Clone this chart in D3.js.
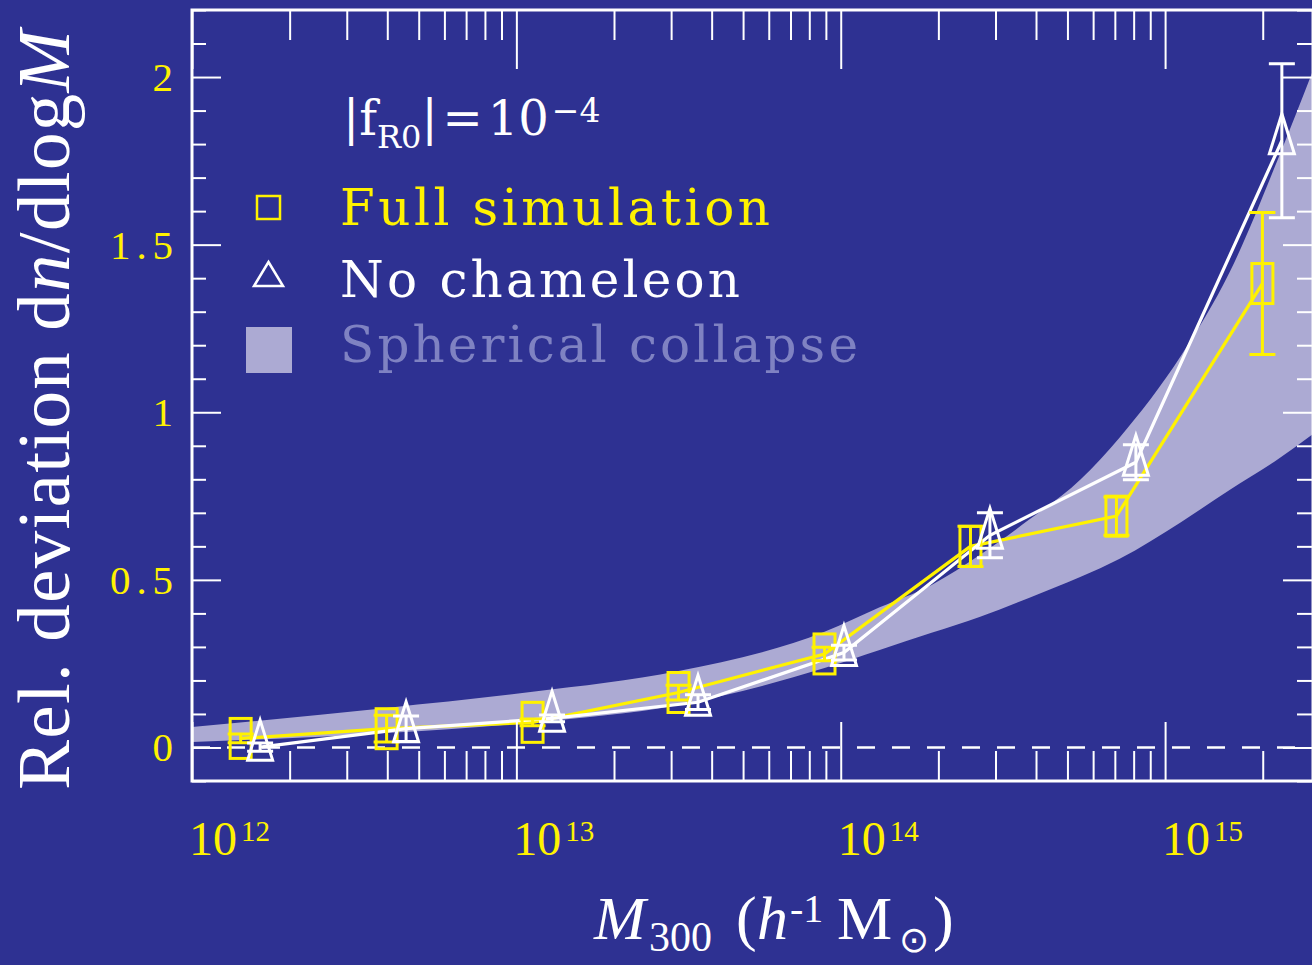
<!DOCTYPE html>
<html>
<head>
<meta charset="utf-8">
<script src="https://cdn.jsdelivr.net/npm/d3@7"></script>
<style>
  html, body { margin: 0; padding: 0; background: #2e3192; }
  svg { display: block; }
</style>
</head>
<body>
<script>
// log10 of halo mass, relative deviation and error for each run
const logMFull = [12.15, 12.60, 13.05, 13.50, 13.95, 14.40, 14.85, 15.30];
const devFull = [0.027, 0.056, 0.075, 0.164, 0.279, 0.600, 0.690, 1.384];
const errFull = [0.013, 0.040, 0.010, 0.022, 0.020, 0.060, 0.057, 0.212];

const logMNoCham = [12.21, 12.66, 13.11, 13.56, 14.01, 14.46, 14.91, 15.36];
const devNoCham = [0.001, 0.056, 0.087, 0.135, 0.283, 0.633, 0.851, 1.810];
const errNoCham = [0.012, 0.038, 0.010, 0.022, 0.022, 0.067, 0.052, 0.230];

// spherical collapse prediction band
const bandLogM = [12.0, 12.6, 13.05, 13.5, 13.95, 14.12, 14.28, 14.43, 14.58, 14.74, 14.86, 15.05, 15.2, 15.35, 15.456];
const bandUpper = [0.061, 0.118, 0.166, 0.228, 0.345, 0.418, 0.485, 0.575, 0.679, 0.80, 0.925, 1.17, 1.42, 1.76, 2.02];
const bandLower = [0.016, 0.043, 0.075, 0.127, 0.237, 0.291, 0.342, 0.39, 0.446, 0.509, 0.563, 0.673, 0.769, 0.861, 0.935];

const xMajor = [12, 13, 14, 15];
const yMajor = [0, 0.5, 1, 1.5, 2];
const yLabels = ["0", "0.5", "1", "1.5", "2"];

let svgWidth = 1312;
let svgHeight = 965;
let margin = { left: 192, right: 1313, top: 10, bottom: 781 };

let bg = "#2e3192";
let yellow = "#fff200";
let lavender = "#acaad3";

let svg = d3.select("body")
    .append("svg")
    .attr("width", svgWidth)
    .attr("height", svgHeight);

svg.append("rect")
    .attr("width", svgWidth)
    .attr("height", svgHeight)
    .attr("fill", bg);

let x = d3.scaleLog()
    .domain([1e12, Math.pow(10, 15.456)])
    .range([margin.left, margin.right]);

let y = d3.scaleLinear()
    .domain([-0.1, 2.2])
    .range([margin.bottom, margin.top]);

let X = m => x(Math.pow(10, m));

// band
let band = d3.area()
    .x((d, i) => X(bandLogM[i]))
    .y0((d, i) => y(bandLower[i]))
    .y1((d, i) => y(bandUpper[i]))
    .curve(d3.curveMonotoneX);

let plot = svg.append("g");

plot.append("clipPath").attr("id", "clip")
    .append("rect")
    .attr("x", margin.left).attr("y", margin.top)
    .attr("width", margin.right - margin.left).attr("height", margin.bottom - margin.top);

plot.append("path")
    .attr("clip-path", "url(#clip)")
    .attr("d", band(bandLogM))
    .attr("fill", lavender);

// zero line
plot.append("line")
    .attr("x1", margin.left).attr("x2", margin.right)
    .attr("y1", y(0)).attr("y2", y(0))
    .attr("stroke", "#fff")
    .attr("stroke-width", 2.5)
    .attr("stroke-dasharray", "18,17");

// series lines
let line = d3.line()
    .x(d => X(d[0]))
    .y(d => y(d[1]));

let fullPts = logMFull.map((m, i) => [m, devFull[i], errFull[i]]);
let noChamPts = logMNoCham.map((m, i) => [m, devNoCham[i], errNoCham[i]]);

plot.append("path")
    .attr("d", line(fullPts))
    .attr("fill", "none")
    .attr("stroke", yellow)
    .attr("stroke-width", 3.2);

plot.append("path")
    .attr("d", line(noChamPts))
    .attr("fill", "none")
    .attr("stroke", "#fff")
    .attr("stroke-width", 3.2);

// error bars
function errorBars(pts, color) {
    let g = plot.append("g")
        .attr("stroke", color)
        .attr("stroke-width", 3)
        .attr("fill", "none");
    g.selectAll(".eb")
        .data(pts)
        .enter()
        .append("path")
        .attr("d", d => {
            let cx = X(d[0]), y1 = y(d[1] + d[2]), y2 = y(d[1] - d[2]);
            return `M${cx},${y1}V${y2}M${cx - 13},${y1}H${cx + 13}M${cx - 13},${y2}H${cx + 13}`;
        });
}

// markers
plot.append("g").selectAll("rect")
    .data(fullPts)
    .enter()
    .append("rect")
    .attr("x", d => X(d[0]) - 10.5)
    .attr("y", d => y(d[1]) - 20)
    .attr("width", 21)
    .attr("height", 40)
    .attr("fill", "none")
    .attr("stroke", yellow)
    .attr("stroke-width", 3);
errorBars(fullPts, yellow);

plot.append("g").selectAll("path")
    .data(noChamPts)
    .enter()
    .append("path")
    .attr("d", d => {
        let cx = X(d[0]), cy = y(d[1]);
        return `M${cx},${cy - 27}L${cx + 12.5},${cy + 13}L${cx - 12.5},${cy + 13}Z`;
    })
    .attr("fill", "none")
    .attr("stroke", "#fff")
    .attr("stroke-width", 3)
    .attr("stroke-linejoin", "miter");
errorBars(noChamPts, "#fff");

// axes
let xMinor = x.ticks().filter(t => !xMajor.includes(Math.round(Math.log10(t) * 1000) / 1000));
let xMaj = xMajor.map(m => Math.pow(10, m));
let yMinor = d3.range(-1, 23).map(i => i / 10).filter(v => !yMajor.includes(v));

function styleAxis(g) {
    g.select(".domain").remove();
    g.selectAll("line").attr("stroke", "#fff").attr("stroke-width", 2);
    g.selectAll("text").remove();
}

svg.append("g").attr("transform", `translate(0, ${margin.bottom})`)
    .call(d3.axisTop(x).tickValues(xMinor).tickSize(30).tickFormat(""))
    .call(styleAxis);
svg.append("g").attr("transform", `translate(0, ${margin.bottom})`)
    .call(d3.axisTop(x).tickValues(xMaj).tickSize(59).tickFormat(""))
    .call(styleAxis);
svg.append("g").attr("transform", `translate(0, ${margin.top})`)
    .call(d3.axisBottom(x).tickValues(xMinor).tickSize(30).tickFormat(""))
    .call(styleAxis);
svg.append("g").attr("transform", `translate(0, ${margin.top})`)
    .call(d3.axisBottom(x).tickValues(xMaj).tickSize(59).tickFormat(""))
    .call(styleAxis);

svg.append("g").attr("transform", `translate(${margin.left}, 0)`)
    .call(d3.axisRight(y).tickValues(yMinor).tickSize(14).tickFormat(""))
    .call(styleAxis);
svg.append("g").attr("transform", `translate(${margin.left}, 0)`)
    .call(d3.axisRight(y).tickValues(yMajor).tickSize(29).tickFormat(""))
    .call(styleAxis);
svg.append("g").attr("transform", `translate(${margin.right}, 0)`)
    .call(d3.axisLeft(y).tickValues(yMinor).tickSize(16).tickFormat(""))
    .call(styleAxis);
svg.append("g").attr("transform", `translate(${margin.right}, 0)`)
    .call(d3.axisLeft(y).tickValues(yMajor).tickSize(30).tickFormat(""))
    .call(styleAxis);

// frame
svg.append("rect")
    .attr("x", margin.left).attr("y", margin.top)
    .attr("width", margin.right - margin.left).attr("height", margin.bottom - margin.top)
    .attr("fill", "none")
    .attr("stroke", "#fff")
    .attr("stroke-width", 3);

// tick labels
let serif = "'Liberation Serif', 'Times New Roman', serif";

svg.append("g").selectAll("text")
    .data(yMajor)
    .enter()
    .append("text")
    .attr("x", 173)
    .attr("y", d => y(d) + 14)
    .attr("text-anchor", "end")
    .attr("font-family", serif)
    .attr("font-size", 41)
    .attr("fill", yellow)
    .each(function(d, i) {
        let t = d3.select(this).text(yLabels[i]);
        if (yLabels[i].length > 1) t.attr("textLength", 63).attr("lengthAdjust", "spacing");
    });

let xl = svg.append("g").selectAll("text")
    .data(xMajor)
    .enter()
    .append("text")
    .attr("x", d => X(d) - 3)
    .attr("y", 855)
    .attr("font-family", serif)
    .attr("font-size", 48)
    .attr("fill", yellow);
xl.append("tspan").text("10");
xl.append("tspan").attr("dx", 4).attr("dy", -14).attr("font-size", 29).text(d => d);

// axis titles
svg.append("text")
    .attr("transform", "translate(69, 410) rotate(-90)")
    .attr("text-anchor", "middle")
    .attr("font-family", serif)
    .attr("font-size", 75)
    .attr("fill", "#fff")
    .attr("textLength", 760)
    .attr("lengthAdjust", "spacing")
    .call(t => {
        t.append("tspan").text("Rel. deviation d");
        t.append("tspan").attr("font-style", "italic").text("n");
        t.append("tspan").text("/dlog");
        t.append("tspan").attr("font-style", "italic").text("M");
    });

let xt = svg.append("text")
    .attr("x", 594)
    .attr("y", 939)
    .attr("font-family", serif)
    .attr("font-size", 62)
    .attr("fill", "#fff");
xt.append("tspan").attr("font-style", "italic").text("M");
xt.append("tspan").attr("x", 649).attr("dy", 12).attr("font-size", 42).text("300");
xt.append("tspan").attr("x", 736).attr("dy", -12).text("(");
xt.append("tspan").attr("x", 757).attr("font-style", "italic").text("h");
xt.append("tspan").attr("x", 790).attr("dy", -17).attr("font-size", 40).text("-1");
xt.append("tspan").attr("x", 837).attr("dy", 17).text("M");
xt.append("tspan").attr("x", 899).attr("dy", 13).attr("font-size", 36)
    .attr("font-family", "'DejaVu Sans', sans-serif").text("⊙");
xt.append("tspan").attr("x", 933).attr("dy", -13).text(")");

// annotation and legend
let legendFont = "'DejaVu Serif', serif";

let fr = svg.append("text")
    .attr("x", 343)
    .attr("y", 135)
    .attr("font-family", legendFont)
    .attr("font-size", 48)
    .attr("fill", "#fff");
fr.append("tspan").text("|f");
fr.append("tspan").attr("dy", 13).attr("font-size", 32).text("R0");
fr.append("tspan").attr("dy", -13).text("|");
fr.append("tspan").attr("dx", 5).text("=");
fr.append("tspan").attr("dx", 5).text("10");
fr.append("tspan").attr("dx", 3).attr("dy", -13).attr("font-size", 33).text("−4");

const legendLabels = ["Full simulation", "No chameleon", "Spherical collapse"];
const legendColors = [yellow, "#fff", "#7f82c2"];
const legendWidths = [430, 400, 518];
const legendBase = [225, 297, 362];

svg.append("g").selectAll("text")
    .data(legendLabels)
    .enter()
    .append("text")
    .attr("x", 340)
    .attr("y", (d, i) => legendBase[i])
    .attr("font-family", legendFont)
    .attr("font-size", 50)
    .attr("fill", (d, i) => legendColors[i])
    .attr("textLength", (d, i) => legendWidths[i])
    .attr("lengthAdjust", "spacing")
    .text(d => d);

svg.append("rect")
    .attr("x", 257).attr("y", 196)
    .attr("width", 23).attr("height", 23)
    .attr("fill", "none")
    .attr("stroke", yellow)
    .attr("stroke-width", 2.5);

svg.append("path")
    .attr("d", "M268.5,262L283,286L254,286Z")
    .attr("fill", "none")
    .attr("stroke", "#fff")
    .attr("stroke-width", 2.5);

svg.append("rect")
    .attr("x", 246).attr("y", 327)
    .attr("width", 46).attr("height", 46)
    .attr("fill", lavender);
</script>
</body>
</html>
